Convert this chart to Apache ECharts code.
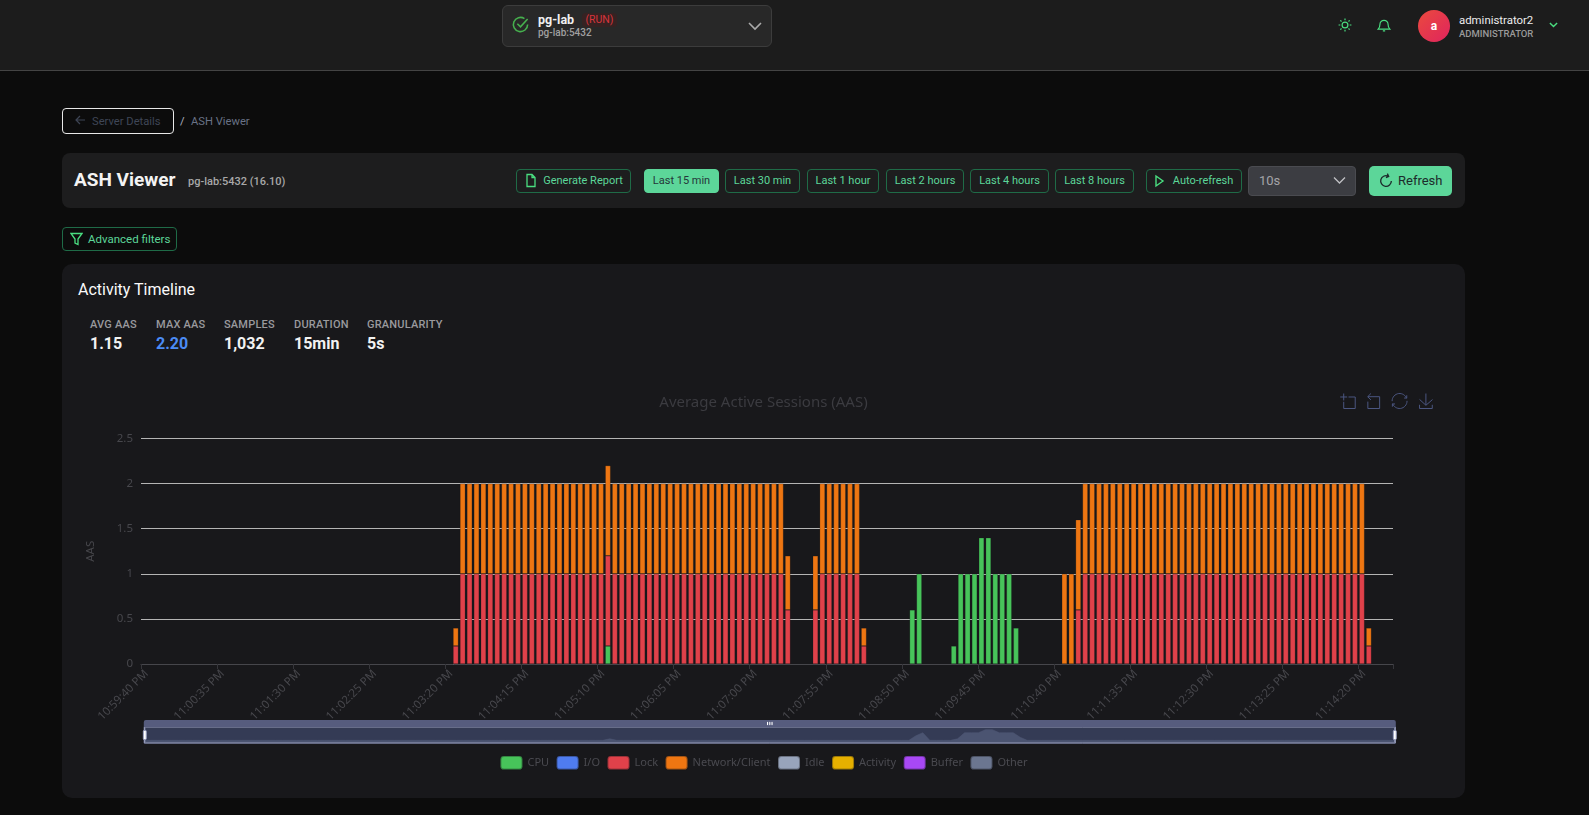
<!DOCTYPE html>
<html><head><meta charset="utf-8"><title>ASH Viewer</title>
<script src="https://cdn.jsdelivr.net/npm/echarts@6/dist/echarts.min.js"></script>
<style>
*{box-sizing:border-box}
html,body{margin:0;width:1589px;height:815px;overflow:hidden;background:#0c0c0c;font-family:Roboto,sans-serif}
.a{position:absolute;white-space:nowrap}
.btn{position:absolute;top:169px;height:24px;border:1px solid #1f6b47;border-radius:4px;color:#5cd699;font-size:11px;font-weight:400;line-height:22px;text-align:center;background:transparent;white-space:nowrap}
.lab{position:absolute;top:318px;font-size:11px;font-weight:500;color:#9a9a9e;white-space:nowrap;letter-spacing:.2px}
.val{position:absolute;top:334px;font-size:16px;font-weight:700;color:#f2f2f2;white-space:nowrap}
svg{position:absolute;fill:none}
</style></head><body>
<div class="a" style="left:0;top:0;width:1589px;height:71px;background:#1c1c1c;border-bottom:1px solid #444"></div>
<div class="a" style="left:502px;top:5px;width:270px;height:42px;background:#282828;border:1px solid #3c3c3c;border-radius:6px"></div>
<svg style="left:511px;top:15px" width="19" height="19" viewBox="0 0 24 24" stroke="#46b04e" stroke-width="2"><path d="M21 12a9 9 0 1 1-4-7.5"/><path d="M8 11l4 4 9-10"/></svg>
<div class="a" style="left:538px;top:12px;font-size:12.5px;font-weight:700;color:#f0f0f0">pg-lab</div>
<div class="a" style="left:582px;top:13px;width:35px;height:14px;background:#362222;border-radius:4px;font-size:10.5px;line-height:14px;text-align:center;color:#d8343c">(RUN)</div>
<div class="a" style="left:538px;top:27px;font-size:10px;font-weight:500;color:#a0a0a0">pg-lab:5432</div>
<svg style="left:748px;top:19px" width="14" height="14" viewBox="0 0 14 14" stroke="#aaa" stroke-width="1.6"><path d="M1 4l6 6 6-6"/></svg>
<svg style="left:1338px;top:18px" width="14" height="14" viewBox="0 0 24 24" stroke="#4ade80" stroke-width="2"><circle cx="12" cy="12" r="5"/><path d="M12 1v3M12 20v3M1 12h3M20 12h3M4 4l2 2M18 18l2 2M4 20l2-2M18 6l2-2"/></svg>
<svg style="left:1377px;top:18px" width="14" height="14" viewBox="0 0 24 24" stroke="#4ade80" stroke-width="2"><path d="M2 19h20c-2-2-3-4-3-8a7 7 0 0 0-14 0c0 4-1 6-3 8zM10 22h4"/></svg>
<div class="a" style="left:1418px;top:10px;width:32px;height:32px;border-radius:50%;background:linear-gradient(135deg,#ea4a3e,#e0245e);color:#fff;font-size:12px;font-weight:700;line-height:32px;text-align:center">a</div>
<div class="a" style="left:1459px;top:13px;font-size:11.4px;font-weight:400;color:#ececec">administrator2</div>
<div class="a" style="left:1459px;top:28px;font-size:9.500px;font-weight:500;color:#9a9a9a">ADMINISTRATOR</div>
<svg style="left:1549px;top:21px" width="9" height="8" viewBox="0 0 11 10" stroke="#4ade80" stroke-width="1.8"><path d="M1 2.5l4.500 4.500 4.500-4.500"/></svg>

<div class="a" style="left:62px;top:108px;width:112px;height:26px;border:1px solid #e8e8e8;border-radius:4px"></div>
<svg style="left:74px;top:114px" width="12" height="12" viewBox="0 0 12 12" stroke="#3d4454" stroke-width="1.2"><path d="M11 6H2M6 2L2 6l4 4"/></svg>
<div class="a" style="left:92px;top:115px;font-size:11.2px;color:#3f4656">Server Details</div>
<div class="a" style="left:180px;top:115px;font-size:11.2px;color:#b0b4c0">/</div>
<div class="a" style="left:191px;top:115px;font-size:11.2px;color:#697286">ASH Viewer</div>

<div class="a" style="left:62px;top:153px;width:1403px;height:55px;background:#1d1d1e;border-radius:8px"></div>
<div class="a" style="left:74px;top:168px;font-size:19px;font-weight:700;color:#f3f3f3">ASH Viewer</div>
<div class="a" style="left:188px;top:175px;font-size:11px;font-weight:500;color:#a8a8a8">pg-lab:5432 (16.10)</div>
<div class="btn" style="left:516px;width:115px;padding-left:19px">Generate Report</div>
<svg style="left:524px;top:173px" width="14" height="15" viewBox="0 0 14 15" stroke="#4ade80" stroke-width="1.300"><path d="M3 1.500h5l3 3v9H3zM8 1.500v3h3"/></svg>
<div class="btn" style="left:644px;width:75px;background:#5cd699;border-color:#5cd699;color:#25363a">Last 15 min</div>
<div class="btn" style="left:725px;width:75px">Last 30 min</div>
<div class="btn" style="left:807px;width:72px">Last 1 hour</div>
<div class="btn" style="left:886px;width:78px">Last 2 hours</div>
<div class="btn" style="left:970px;width:79px">Last 4 hours</div>
<div class="btn" style="left:1055px;width:79px">Last 8 hours</div>
<div class="btn" style="left:1146px;width:96px;padding-left:18px">Auto-refresh</div>
<svg style="left:1154px;top:174px" width="12" height="14" viewBox="0 0 12 14" stroke="#4ade80" stroke-width="1.400"><path d="M2 2l7 5-7 5z"/></svg>
<div class="a" style="left:1248px;top:166px;width:108px;height:30px;background:#3c3d42;border:1px solid #4a4b50;border-radius:4px;font-size:13px;line-height:28px;padding-left:10px;color:#a4a4a8">10s</div>
<svg style="left:1333px;top:175px" width="13" height="11" viewBox="0 0 13 11" stroke="#c0c0c4" stroke-width="1.300"><path d="M1 2.500l5.500 5.500 5.500-5.500"/></svg>
<div class="a" style="left:1369px;top:166px;width:83px;height:30px;background:#5cd699;border-radius:5px;font-size:13px;line-height:30px;padding-left:29px;color:#1c2b2b">Refresh</div>
<svg style="left:1378px;top:173px" width="16" height="16" viewBox="0 0 24 24" stroke="#1c2b2b" stroke-width="2"><path d="M20 12a8 8 0 1 1-5-7.400M14 1l2 4-4 2"/></svg>

<div class="a" style="left:62px;top:227px;width:115px;height:24px;border:1px solid #1f6b47;border-radius:4px;font-size:11.5px;line-height:22px;padding-left:25px;color:#5cd699">Advanced filters</div>
<svg style="left:70px;top:232px" width="13" height="14" viewBox="0 0 13 14" stroke="#4ade80" stroke-width="1.300"><path d="M1 1.500h11L8 7v5.500L5 11V7z"/></svg>

<div class="a" style="left:62px;top:264px;width:1403px;height:534px;background:#18181b;border-radius:10px"></div>
<div class="a" style="left:78px;top:280px;font-size:16px;font-weight:400;color:#fafafa">Activity Timeline</div>
<div class="lab" style="left:90px">AVG AAS</div><div class="val" style="left:90px">1.15</div>
<div class="lab" style="left:156px">MAX AAS</div><div class="val" style="left:156px;color:#4b8bf5">2.20</div>
<div class="lab" style="left:224px">SAMPLES</div><div class="val" style="left:224px">1,032</div>
<div class="lab" style="left:294px">DURATION</div><div class="val" style="left:294px">15min</div>
<div class="lab" style="left:367px">GRANULARITY</div><div class="val" style="left:367px">5s</div>
<div id="chart" class="a" style="left:62px;top:380px;width:1403px;height:418px"></div>
<script>
const categories=[
"10:59:40 PM","10:59:45 PM","10:59:50 PM","10:59:55 PM",
"11:00:00 PM","11:00:05 PM","11:00:10 PM","11:00:15 PM","11:00:20 PM","11:00:25 PM","11:00:30 PM","11:00:35 PM","11:00:40 PM","11:00:45 PM","11:00:50 PM","11:00:55 PM",
"11:01:00 PM","11:01:05 PM","11:01:10 PM","11:01:15 PM","11:01:20 PM","11:01:25 PM","11:01:30 PM","11:01:35 PM","11:01:40 PM","11:01:45 PM","11:01:50 PM","11:01:55 PM",
"11:02:00 PM","11:02:05 PM","11:02:10 PM","11:02:15 PM","11:02:20 PM","11:02:25 PM","11:02:30 PM","11:02:35 PM","11:02:40 PM","11:02:45 PM","11:02:50 PM","11:02:55 PM",
"11:03:00 PM","11:03:05 PM","11:03:10 PM","11:03:15 PM","11:03:20 PM","11:03:25 PM","11:03:30 PM","11:03:35 PM","11:03:40 PM","11:03:45 PM","11:03:50 PM","11:03:55 PM",
"11:04:00 PM","11:04:05 PM","11:04:10 PM","11:04:15 PM","11:04:20 PM","11:04:25 PM","11:04:30 PM","11:04:35 PM","11:04:40 PM","11:04:45 PM","11:04:50 PM","11:04:55 PM",
"11:05:00 PM","11:05:05 PM","11:05:10 PM","11:05:15 PM","11:05:20 PM","11:05:25 PM","11:05:30 PM","11:05:35 PM","11:05:40 PM","11:05:45 PM","11:05:50 PM","11:05:55 PM",
"11:06:00 PM","11:06:05 PM","11:06:10 PM","11:06:15 PM","11:06:20 PM","11:06:25 PM","11:06:30 PM","11:06:35 PM","11:06:40 PM","11:06:45 PM","11:06:50 PM","11:06:55 PM",
"11:07:00 PM","11:07:05 PM","11:07:10 PM","11:07:15 PM","11:07:20 PM","11:07:25 PM","11:07:30 PM","11:07:35 PM","11:07:40 PM","11:07:45 PM","11:07:50 PM","11:07:55 PM",
"11:08:00 PM","11:08:05 PM","11:08:10 PM","11:08:15 PM","11:08:20 PM","11:08:25 PM","11:08:30 PM","11:08:35 PM","11:08:40 PM","11:08:45 PM","11:08:50 PM","11:08:55 PM",
"11:09:00 PM","11:09:05 PM","11:09:10 PM","11:09:15 PM","11:09:20 PM","11:09:25 PM","11:09:30 PM","11:09:35 PM","11:09:40 PM","11:09:45 PM","11:09:50 PM","11:09:55 PM",
"11:10:00 PM","11:10:05 PM","11:10:10 PM","11:10:15 PM","11:10:20 PM","11:10:25 PM","11:10:30 PM","11:10:35 PM","11:10:40 PM","11:10:45 PM","11:10:50 PM","11:10:55 PM",
"11:11:00 PM","11:11:05 PM","11:11:10 PM","11:11:15 PM","11:11:20 PM","11:11:25 PM","11:11:30 PM","11:11:35 PM","11:11:40 PM","11:11:45 PM","11:11:50 PM","11:11:55 PM",
"11:12:00 PM","11:12:05 PM","11:12:10 PM","11:12:15 PM","11:12:20 PM","11:12:25 PM","11:12:30 PM","11:12:35 PM","11:12:40 PM","11:12:45 PM","11:12:50 PM","11:12:55 PM",
"11:13:00 PM","11:13:05 PM","11:13:10 PM","11:13:15 PM","11:13:20 PM","11:13:25 PM","11:13:30 PM","11:13:35 PM","11:13:40 PM","11:13:45 PM","11:13:50 PM","11:13:55 PM",
"11:14:00 PM","11:14:05 PM","11:14:10 PM","11:14:15 PM","11:14:20 PM","11:14:25 PM","11:14:30 PM","11:14:35 PM","11:14:40 PM"];
// rows of 10 samples, index 0 = 10:59:40
const cpu=[
0,0,0,0,0,0,0,0,0,0, 0,0,0,0,0,0,0,0,0,0, 0,0,0,0,0,0,0,0,0,0, 0,0,0,0,0,0,0,0,0,0,
0,0,0,0,0,0,0,0,0,0, 0,0,0,0,0,0,0,0,0,0, 0,0,0,0,0,0,0,.2,0,0, 0,0,0,0,0,0,0,0,0,0,
0,0,0,0,0,0,0,0,0,0, 0,0,0,0,0,0,0,0,0,0, 0,0,0,0,0,0,0,0,0,0, 0,.6,1,0,0,0,0,.2,1,1,
1,1.4,1.4,1,1,1,.4,0,0,0, 0,0,0,0,0,0,0,0,0,0, 0,0,0,0,0,0,0,0,0,0, 0,0,0,0,0,0,0,0,0,0,
0,0,0,0,0,0,0,0,0,0, 0,0,0,0,0,0,0,0,0,0, 0];
const lock=[
0,0,0,0,0,0,0,0,0,0, 0,0,0,0,0,0,0,0,0,0, 0,0,0,0,0,0,0,0,0,0, 0,0,0,0,0,0,0,0,0,0,
0,0,0,0,0,.2,1,1,1,1, 1,1,1,1,1,1,1,1,1,1, 1,1,1,1,1,1,1,1,1,1, 1,1,1,1,1,1,1,1,1,1,
1,1,1,1,1,1,1,1,1,1, 1,1,1,.6,0,0,0,.6,1,1, 1,1,1,1,.2,0,0,0,0,0, 0,0,0,0,0,0,0,0,0,0,
0,0,0,0,0,0,0,0,0,0, 0,0,0,0,0,.6,1,1,1,1, 1,1,1,1,1,1,1,1,1,1, 1,1,1,1,1,1,1,1,1,1,
1,1,1,1,1,1,1,1,1,1, 1,1,1,1,1,1,1,.2,0,0, 0];
const net=[
0,0,0,0,0,0,0,0,0,0, 0,0,0,0,0,0,0,0,0,0, 0,0,0,0,0,0,0,0,0,0, 0,0,0,0,0,0,0,0,0,0,
0,0,0,0,0,.2,1,1,1,1, 1,1,1,1,1,1,1,1,1,1, 1,1,1,1,1,1,1,1,1,1, 1,1,1,1,1,1,1,1,1,1,
1,1,1,1,1,1,1,1,1,1, 1,1,1,.6,0,0,0,.6,1,1, 1,1,1,1,.2,0,0,0,0,0, 0,0,0,0,0,0,0,0,0,0,
0,0,0,0,0,0,0,0,0,0, 0,0,0,1,1,1,1,1,1,1, 1,1,1,1,1,1,1,1,1,1, 1,1,1,1,1,1,1,1,1,1,
1,1,1,1,1,1,1,1,1,1, 1,1,1,1,1,1,1,.2,0,0, 0];
const empty=[];
const seriesNames=["CPU","I/O","Lock","Network/Client","Idle","Activity","Buffer","Other"];
const seriesValues=[cpu,empty,lock,net,empty,empty,empty,empty];
const seriesColors=["#47c45a","#4f7cf0","#e0414a","#ee7612","#98a4bb","#e6b000","#a848f5","#6b7690"];
const FONT='"Noto Sans",sans-serif';
const chart=echarts.init(document.getElementById('chart'),null,{renderer:'canvas'});
chart.setOption({
  animation:false,
  backgroundColor:'transparent',
  textStyle:{fontFamily:FONT},
  title:{text:"Average Active Sessions (AAS)",left:'center',top:10,textStyle:{color:'#3b3b40',fontSize:15,fontWeight:'normal',fontFamily:FONT}},
  toolbox:{right:15,top:-4,itemSize:15,itemGap:7.5,iconStyle:{borderColor:'#4b5680'},feature:{dataZoom:{},restore:{},saveAsImage:{}}},
  legend:{top:370,left:'center',itemWidth:22,itemHeight:13.5,itemGap:6.5,data:seriesNames,textStyle:{color:'#4a4a50',fontSize:11,fontFamily:FONT}},
  grid:{left:79,right:72,top:58.5,bottom:134,containLabel:false},
  xAxis:{type:'category',data:categories,axisLabel:{rotate:45,interval:10,margin:10,padding:[0,-3,0,0],color:'#47474c',fontSize:11.5,fontFamily:FONT},axisLine:{lineStyle:{color:'#46464b'}},axisTick:{show:true,interval:10,lineStyle:{color:'#36363b'}}},
  yAxis:{type:'value',min:0,max:2.5,interval:.5,name:'AAS',nameLocation:'middle',nameGap:44,nameTextStyle:{color:'#47474c',fontSize:11.5},axisLabel:{color:'#47474c',fontSize:11.5},axisLine:{show:false},axisTick:{show:false},splitLine:{lineStyle:{color:'#b4b4b4'}}},
  dataZoom:[{type:'slider',xAxisIndex:0,start:0,end:100,left:79,right:72,top:340,height:17,showDetail:false,brushSelect:true,moveHandleSize:7,
    borderColor:'#9a9fbd',backgroundColor:'#2f3349',fillerColor:'rgba(60,68,100,.45)',
    handleStyle:{color:'#ffffff',borderColor:'#9aa0c0'},handleSize:'85%',
    moveHandleStyle:{color:'#565c7e',opacity:1},
    dataBackground:{lineStyle:{color:'#5d6682',width:.5},areaStyle:{color:'#5d6682',opacity:.9}},
    selectedDataBackground:{lineStyle:{color:'#5d6682',width:.5},areaStyle:{color:'#5d6682',opacity:.9}}}],
  series:seriesNames.map((n,i)=>({name:n,type:'bar',stack:'aas',barWidth:'78%',
    itemStyle:{color:seriesColors[i],borderColor:'rgba(24,24,27,.35)',borderWidth:.6},
    data:seriesValues[i].map(v=>v===0?{value:0,itemStyle:{borderWidth:0}}:v)}))
});
</script>
</body></html>
